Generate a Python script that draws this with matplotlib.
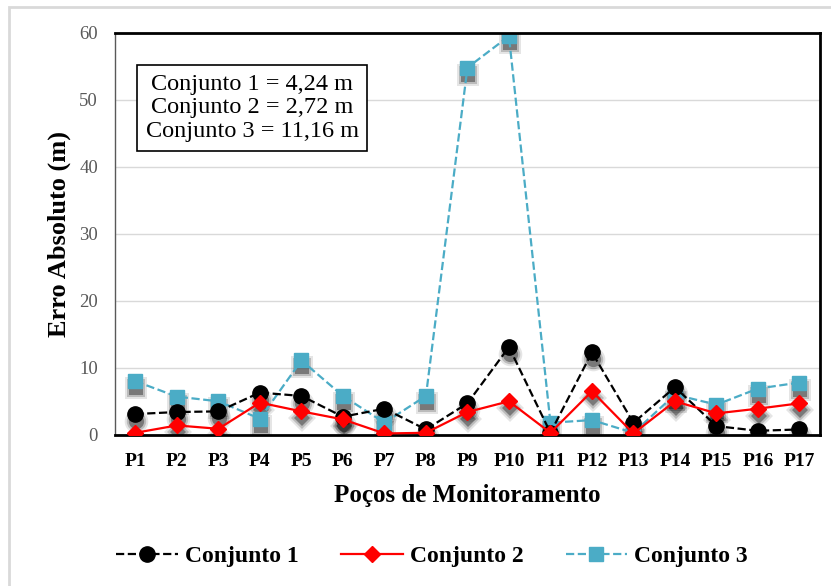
import matplotlib
matplotlib.use("Agg")
import matplotlib.pyplot as plt
from matplotlib.patches import Rectangle
import matplotlib.transforms as mtransforms

categories = [f"P{i}" for i in range(1, 18)]
conj1 = [3.1, 3.4, 3.5, 6.3, 5.8, 2.7, 3.9, 0.8, 4.7, 13.1, 0.3, 12.3, 1.8, 7.1, 1.3, 0.6, 0.8]
conj2 = [0.3, 1.4, 0.9, 4.8, 3.5, 2.3, 0.2, 0.3, 3.4, 5.0, 0.3, 6.5, 0.2, 5.0, 3.2, 3.9, 4.7]
conj3 = [8.0, 5.7, 5.0, 2.4, 11.1, 5.8, 1.8, 5.8, 54.8, 59.5, 1.8, 2.2, 0.3, 6.0, 4.5, 6.9, 7.8]
labels = ["Conjunto 1", "Conjunto 2", "Conjunto 3"]
yticks = [0, 10, 20, 30, 40, 50, 60]

plt.rcParams['font.family'] = ['Liberation Serif', 'DejaVu Serif']

fig = plt.figure(figsize=(8.31, 5.86), dpi=100)
fig.patches.append(Rectangle((0.011, -0.05), 1.05, 1.038, transform=fig.transFigure,
                             fill=False, edgecolor='#d9d9d9', linewidth=2))
ax = fig.add_axes([0.138, 0.258, 0.849, 0.686])

x = list(range(len(categories)))
shadow_tr = ax.transData + mtransforms.ScaledTranslation(1 / 100, -7 / 100, fig.dpi_scale_trans)

series = [
    (conj1, 'black', '--', 'o', 11, 3),
    (conj2, '#ff0000', '-', 'D', 8, 4),
    (conj3, '#4bacc6', '--', 's', 10, 2),
]
handles = []
for (vals, col, ls, mk, ms, z), lab in zip(series, labels):
    for extra, a in [(6, 0.10), (3, 0.18), (0, 0.35)]:
        ax.plot(x, vals, linestyle='none', marker=mk, markersize=ms + extra, color='black',
                markeredgewidth=0, alpha=a, transform=shadow_tr, zorder=1.5)
    h, = ax.plot(x, vals, color=col, linestyle=ls, linewidth=1.6, marker=mk,
                 markersize=ms, label=lab, zorder=z)
    handles.append(h)

ax.set_xlim(-0.5, len(categories) - 0.5)
ax.set_ylim(0, 60)
ax.set_yticks(yticks)
ax.set_xticks(x)
ax.set_xticklabels(categories, fontsize=14, fontweight='bold')
ax.tick_params(axis='y', labelsize=13.5, labelcolor='#595959', length=0, pad=12)
ax.tick_params(axis='x', length=0, pad=13)
ax.yaxis.grid(True, color='#d9d9d9', linewidth=1)
ax.set_axisbelow(True)
for s in ['top', 'right', 'bottom']:
    ax.spines[s].set_color('black')
    ax.spines[s].set_linewidth(2)
ax.spines['left'].set_color('#595959')
ax.spines['left'].set_linewidth(1)

ax.set_ylabel("Erro Absoluto (m)", fontsize=19, fontweight='bold', labelpad=6)
ax.set_xlabel("Poços de Monitoramento", fontsize=18, fontweight='bold', labelpad=10)

ax.text(0.195, 0.813, "Conjunto 1 = 4,24 m\nConjunto 2 = 2,72 m\nConjunto 3 = 11,16 m",
        transform=ax.transAxes, ha='center', va='center', fontsize=17.5, linespacing=1.18,
        bbox=dict(boxstyle='square,pad=0.35', facecolor='white', edgecolor='black', linewidth=1.2))

fig.legend(handles=handles, labels=labels, loc='center', bbox_to_anchor=(0.52, 0.05),
           ncol=3, frameon=False, prop={'size': 17, 'weight': 'bold'}, handlelength=2.6,
           columnspacing=1.8, handletextpad=0.3)

fig.savefig("out.png", dpi=100)
